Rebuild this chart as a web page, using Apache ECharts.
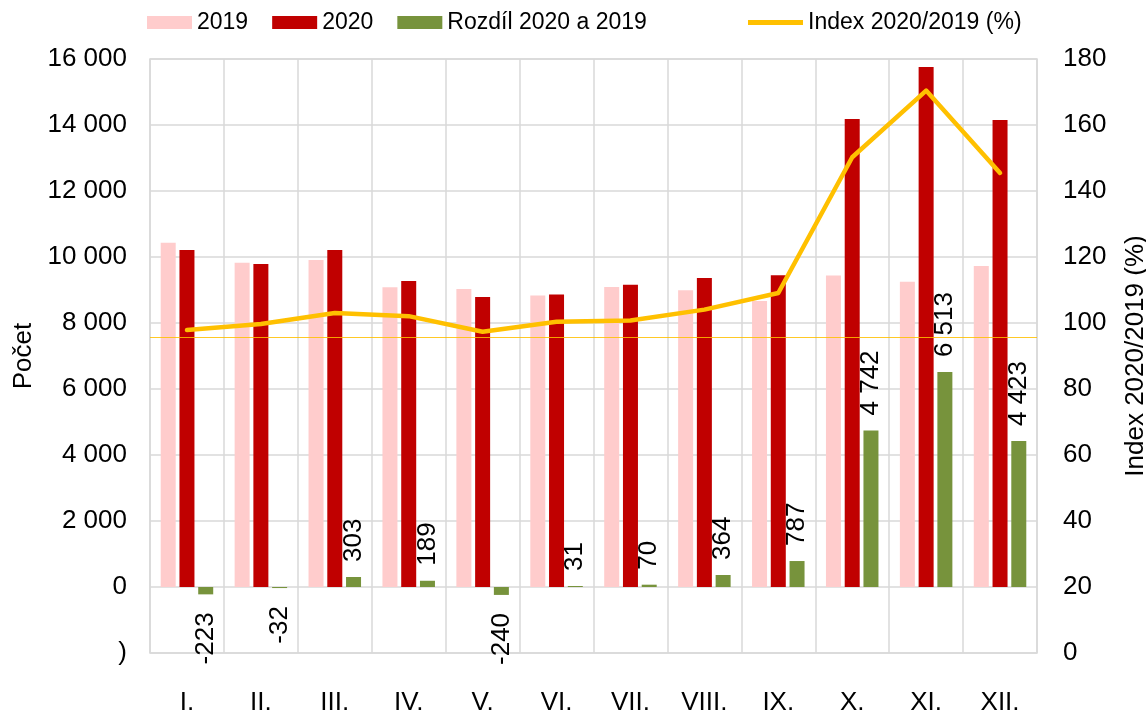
<!DOCTYPE html>
<html><head><meta charset="utf-8">
<script src="https://cdn.jsdelivr.net/npm/echarts@6/dist/echarts.min.js"></script>
<style>html,body{margin:0;padding:0;background:#fff}#c{width:1146px;height:712px}</style>
</head><body><div id="c"></div>
<script>
var categories = ['I.','II.','III.','IV.','V.','VI.','VII.','VIII.','IX.','X.','XI.','XII.'];
var v2019 = [10433, 9822, 9907, 9081, 9030, 8830, 9090, 8996, 8663, 9438, 9247, 9727];
var v2020 = [10210, 9790, 10210, 9270, 8790, 8861, 9160, 9360, 9450, 14180, 15760, 14150];
var diff = [-223, -32, 303, 189, -240, 31, 70, 364, 787, 4742, 6513, 4423];
var indexVals = [97.86, 99.67, 103.06, 102.08, 97.34, 100.35, 100.77, 104.05, 109.08, 150.24, 170.43, 145.47];
var refLine = 95.7;
var leftTicks = {min: -2000, max: 16000, interval: 2000};
var rightTicks = {min: 0, max: 180, interval: 20};

var FONT = '"Liberation Sans", Arial, sans-serif';
function fmt(v){
  var s = String(Math.abs(v)).replace(/\B(?=(\d{3})+(?!\d))/g, ' ');
  return (v < 0 ? '-' : '') + s;
}
var diffData = diff.map(function(v){
  return v < 0
    ? {value: v, label: {position: 'bottom', align: 'right', distance: 18}}
    : {value: v, label: {position: 'top', align: 'left', distance: 15}};
});
var chart = echarts.init(document.getElementById('c'), null, {renderer: 'canvas'});
chart.setOption({
  animation: false,
  textStyle: {fontFamily: FONT},
  legend: [{
    data: ['2019', '2020', 'Rozdíl 2020 a 2019'],
    left: 147, top: 11, padding: 0, itemWidth: 45, itemHeight: 13, itemGap: 24,
    icon: 'rect',
    textStyle: {fontSize: 23, color: '#000', fontFamily: FONT}
  }, {
    data: ['Index 2020/2019 (%)'],
    left: 748, top: 11, padding: 0, itemWidth: 55, itemHeight: 5,
    icon: 'rect',
    textStyle: {fontSize: 23, color: '#000', fontFamily: FONT}
  }],
  grid: {left: 150, right: 109, top: 59, bottom: 59, show: true, borderColor: '#D9D9D9', borderWidth: 1.5,
    containLabel: false, outerBoundsMode: 'none'},
  xAxis: {
    type: 'category', data: categories, boundaryGap: true,
    axisLine: {show: false}, axisTick: {show: false},
    splitLine: {show: true, lineStyle: {color: '#D9D9D9', width: 1.5}},
    axisLabel: {fontSize: 26, color: '#000', margin: 37, fontFamily: FONT, interval: 0}
  },
  yAxis: [{
    type: 'value', min: leftTicks.min, max: leftTicks.max, interval: leftTicks.interval,
    name: 'Počet', nameLocation: 'middle', nameGap: 106,
    nameTextStyle: {fontSize: 26, color: '#000', fontFamily: FONT},
    axisLine: {show: false}, axisTick: {show: false},
    splitLine: {show: true, lineStyle: {color: '#D9D9D9', width: 1.5}},
    axisLabel: {fontSize: 26, color: '#000', margin: 23, fontFamily: FONT,
      formatter: function(v){ return v === leftTicks.min ? ')' : fmt(v); }}
  }, {
    type: 'value', min: rightTicks.min, max: rightTicks.max, interval: rightTicks.interval,
    name: 'Index 2020/2019 (%)', nameLocation: 'middle', nameGap: 86, nameRotate: 90,
    nameTextStyle: {fontSize: 26, color: '#000', fontFamily: FONT},
    axisLine: {show: false}, axisTick: {show: false}, splitLine: {show: false},
    axisLabel: {fontSize: 26, color: '#000', margin: 26, fontFamily: FONT}
  }],
  series: [{
    name: '2019', type: 'bar', data: v2019, barWidth: 15, barGap: '25%',
    itemStyle: {color: '#FFCCCC'}
  }, {
    name: '2020', type: 'bar', data: v2020, barWidth: 15, barGap: '25%',
    itemStyle: {color: '#C00000'}
  }, {
    name: 'Rozdíl 2020 a 2019', type: 'bar', data: diffData, barWidth: 15, barGap: '25%',
    itemStyle: {color: '#77933C'},
    label: {show: true, rotate: 90, verticalAlign: 'middle', fontSize: 26, color: '#000',
      fontFamily: FONT, formatter: function(p){ return fmt(p.value); }}
  }, {
    name: 'Index 2020/2019 (%)', type: 'line', yAxisIndex: 1, data: indexVals,
    symbol: 'none', z: 5,
    lineStyle: {color: '#FFC000', width: 4.5, cap: 'round', join: 'round'},
    itemStyle: {color: '#FFC000'},
    markLine: {silent: true, symbol: 'none', label: {show: false},
      lineStyle: {color: '#FFC000', width: 1.2, type: 'solid', opacity: 0.85},
      data: [{yAxis: refLine}]}
  }]
});
</script></body></html>
